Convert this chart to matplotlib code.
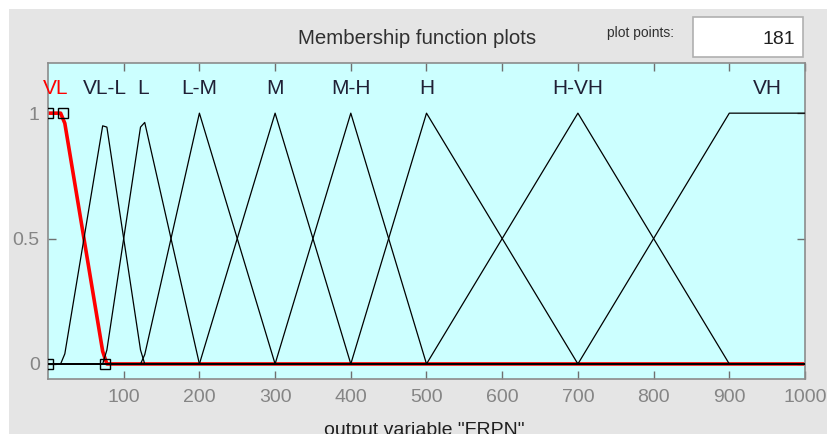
import numpy as np
import matplotlib
matplotlib.use('Agg')
import matplotlib.pyplot as plt
from matplotlib.patches import Rectangle

plt.rcParams['font.family'] = ['Liberation Sans', 'DejaVu Sans']

# membership functions of output variable "FRPN"
mf_names = ['VL', 'VL-L', 'L', 'L-M', 'M', 'M-H', 'H', 'H-VH', 'VH']
mf_types = ['trapmf', 'trimf', 'trimf', 'trimf', 'trimf', 'trimf', 'trimf', 'trimf', 'trapmf']
mf_params = [[0, 0, 20, 75],
             [20, 75, 125],
             [75, 125, 200],
             [125, 200, 300],
             [200, 300, 400],
             [300, 400, 500],
             [400, 500, 700],
             [500, 700, 900],
             [700, 900, 1000, 1000]]
selected = 0          # VL is highlighted
x_range = [0, 1000]
n_points = 181
x_ticks = [100, 200, 300, 400, 500, 600, 700, 800, 900, 1000]
y_ticks = [0, 0.5, 1]


def trapmf(x, p):
    a, b, c, d = p
    y = np.ones_like(x)
    if b > a:
        y = np.minimum(y, (x - a) / (b - a))
    else:
        y = np.where(x < a, 0.0, y)
    if d > c:
        y = np.minimum(y, (d - x) / (d - c))
    else:
        y = np.where(x > d, 0.0, y)
    return np.clip(y, 0, 1)


def trimf(x, p):
    a, b, c = p
    return trapmf(x, [a, b, b, c])


def mf_eval(x, t, p):
    if t == 'trimf':
        return trimf(x, p)
    return trapmf(x, p)


def label_pos(t, p):
    if t == 'trimf':
        return p[1]
    return (p[1] + p[2]) / 2


x = np.linspace(x_range[0], x_range[1], n_points)

W, H = 828, 434
fig = plt.figure(figsize=(W / 100, H / 100), dpi=100, facecolor='white')
fig.patches.append(Rectangle((9 / W, 0), 1 - 9 / W, 1 - 9 / H, transform=fig.transFigure,
                             facecolor='#e5e5e5', edgecolor='none', zorder=-10))

ax = fig.add_axes([48 / W, 1 - 379 / H, (805 - 48) / W, (379 - 63) / H])
ax.set_facecolor('#ccffff')

for i, (t, p) in enumerate(zip(mf_types, mf_params)):
    y = mf_eval(x, t, p)
    if i == selected:
        ax.plot(x, y, color='red', lw=2.6, zorder=2)
    else:
        ax.plot(x, y, color='black', lw=0.9, zorder=3)
    ax.text(label_pos(t, p), 1.10, mf_names[i], ha='center', va='center', fontsize=15,
            color='red' if i == selected else '#202035')

# handles of the selected function
sp = mf_params[selected]
hx = [sp[0], sp[1], sp[2], sp[3]]
hy = [0, 1, 1, 0]
ax.plot(hx, hy, ls='none', marker='s', ms=7.5, mfc='none', mec='black', mew=1.0, zorder=4)

ax.set_xlim(x_range)
ax.set_ylim(-0.06, 1.2)
ax.set_xticks(x_ticks)
ax.set_yticks(y_ticks)
ax.set_yticklabels(['0', '0.5', '1'])
ax.tick_params(direction='in', length=6, width=1, color='#707070', top=True, right=True,
               labelsize=14, labelcolor='#858585')
ax.tick_params(axis='x', pad=7)
ax.tick_params(axis='y', pad=6)
for s in ax.spines.values():
    s.set_color('#8c8c8c')
    s.set_linewidth(1.2)

fig.text(417 / W, 1 - 38 / H, 'Membership function plots', ha='center', va='center',
         fontsize=14.7, color='#303030')
fig.text(607 / W, 1 - 33 / H, 'plot points:', ha='left', va='center', fontsize=10,
         color='#303030')
fig.patches.append(Rectangle((693 / W, 1 - 57 / H), 110 / W, 40 / H, transform=fig.transFigure,
                             facecolor='white', edgecolor='#b0b0b0', lw=1.2, zorder=1))
fig.text(795 / W, 1 - 40 / H, '181', ha='right', va='center', fontsize=14, color='#202020')
fig.text(424 / W, 1 - 422 / H, 'output variable "FRPN"', ha='center', va='top',
         fontsize=14, color='#202020')

fig.savefig('out.png', dpi=100, facecolor=fig.get_facecolor())
